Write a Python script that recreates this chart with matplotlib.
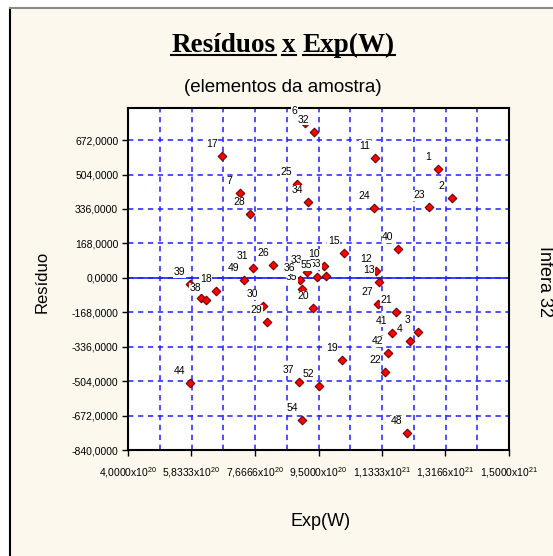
import matplotlib
matplotlib.use("Agg")
import matplotlib.pyplot as plt
from matplotlib.lines import Line2D
from matplotlib.patches import Rectangle

# sample elements: id, Exp(W), residual ("" = label hidden in the original)
ids = ["1", "2", "3", "4", "6", "7", "10", "11", "12", "13", "15", "17", "18", "19",
       "20", "21", "22", "23", "24", "25", "26", "27", "28", "29", "30", "31", "32",
       "33", "34", "35", "36", "37", "", "38", "39", "40", "41", "42", "44", "48",
       "49", "52", "53", "54", "55"]
exp_w = [12.95e20, 13.35e20, 12.37e20, 12.14e20, 9.10e20, 7.22e20, 9.65e20, 11.13e20,
         11.16e20, 11.24e20, 10.23e20, 6.70e20, 6.53e20, 10.17e20, 9.34e20, 11.74e20,
         11.42e20, 12.69e20, 11.10e20, 8.87e20, 8.18e20, 11.21e20, 7.51e20, 8.00e20,
         7.89e20, 7.60e20, 9.36e20, 9.16e20, 9.19e20, 9.02e20, 8.96e20, 8.93e20,
         6.10e20, 6.24e20, 5.78e20, 11.79e20, 11.62e20, 11.50e20, 5.78e20, 12.05e20,
         7.34e20, 9.51e20, 9.71e20, 9.02e20, 9.45e20]
residuo = [530.9, 389.2, -265.2, -309.1, 755.5, 413.6, 57.1, 584.6, 32.7, -21.0,
           120.6, 594.3, -65.0, -401.9, -148.0, -167.5, -460.5, 345.3, 340.4, 457.6,
           62.0, -128.4, 311.1, -216.3, -138.2, 47.4, 711.6, 27.8, 369.7, -55.2,
           -11.2, -509.4, -99.1, -108.9, -30.8, 140.2, -270.1, -367.7, -514.3, -758.4,
           -11.2, -528.9, 8.3, -695.0, 3.4]

x_ticks = [4.0e20, 5.8333e20, 7.6666e20, 9.5e20, 11.333e20, 13.166e20, 15.0e20]
x_labels = [r"4,0000x10$^{20}$", r"5,8333x10$^{20}$", r"7,6666x10$^{20}$",
            r"9,5000x10$^{20}$", r"1,1333x10$^{21}$", r"1,3166x10$^{21}$",
            r"1,5000x10$^{21}$"]
y_ticks = [-840, -672, -504, -336, -168, 0, 168, 336, 504, 672]
y_labels = ["-840,0000", "-672,0000", "-504,0000", "-336,0000", "-168,0000",
            "0,0000", "168,0000", "336,0000", "504,0000", "672,0000"]

W, H = 553, 556
plt.rcParams["font.family"] = ["Liberation Sans", "DejaVu Sans"]
plt.rcParams["mathtext.fontset"] = "custom"
plt.rcParams["mathtext.rm"] = "Liberation Sans"
plt.rcParams["mathtext.it"] = "Liberation Sans"

fig = plt.figure(figsize=(W / 100, H / 100), dpi=100, facecolor="white")

# panel background with border
fig.patches.append(Rectangle((10 / W, 0), 1, 1 - 8 / H, transform=fig.transFigure,
                             facecolor="#fcf8ee", edgecolor="none", zorder=-1))
fig.add_artist(Line2D([10 / W, 10 / W], [0, 1 - 8 / H], transform=fig.transFigure,
                      color="black", lw=1.5))
fig.add_artist(Line2D([10 / W, 1], [1 - 8 / H, 1 - 8 / H], transform=fig.transFigure,
                      color="#8a8a8a", lw=1.5))

ax = fig.add_axes([128 / W, 1 - 450 / H, (509 - 128) / W, (450 - 107.5) / H])
ax.set_facecolor("white")
ax.set_xlim(4.0e20, 15.0e20)
ax.set_ylim(-840, 831)

# grid
blue = "#1f1fff"
for i in range(1, 12):
    xv = 4.0e20 + i * (11.0e20 / 12)
    ax.axvline(xv, color=blue, lw=1.1, ls=(0, (3.5, 3)), zorder=1)
for yv in y_ticks:
    ax.axhline(yv, color=blue, lw=1.1, ls=(0, (3.5, 3)), zorder=1)
ax.axhline(0, color=blue, lw=1.2, zorder=1.5)

ax.scatter(exp_w, residuo, marker="D", s=19, facecolor="#ff0000",
           edgecolor="#6a0000", linewidth=0.8, zorder=3)
for n, xv, yv in zip(ids, exp_w, residuo):
    if not n:
        continue
    ax.annotate(n, (xv, yv), xytext=(-10, 12), textcoords="offset pixels",
                ha="center", va="center", fontsize=7.5, zorder=4,
                bbox=dict(facecolor="white", edgecolor="none", pad=0.4))

ax.set_xticks(x_ticks)
ax.set_xticklabels(x_labels, fontsize=7.5)
ax.set_yticks(y_ticks)
ax.set_yticklabels(y_labels, fontsize=7.5)
ax.tick_params(direction="out", length=4, width=1, pad=3)
ax.tick_params(axis="x", pad=7)
for s in ax.spines.values():
    s.set_linewidth(1.5)
    s.set_color("black")

# title with underlined words
title_words = ["Resíduos", "x", "Exp(W)"]
tkw = dict(fontsize=19.5, fontweight="bold", family="Liberation Serif",
           ha="left", va="baseline")
fig.canvas.draw()
r = fig.canvas.get_renderer()
full = fig.text(0, 0, " ".join(title_words), **tkw)
wfull = full.get_window_extent(r).width
full.remove()
pieces = [fig.text(0, 0, w, **tkw) for w in title_words]
widths = [p.get_window_extent(r).width for p in pieces]
gap = (wfull - sum(widths)) / (len(widths) - 1)
cx, base = 283, H - 52
x0 = cx - wfull / 2
for p, wd in zip(pieces, widths):
    p.set_position((x0 / W, base / H))
    fig.add_artist(Line2D([x0 / W, (x0 + wd) / W], [(base - 3) / H] * 2,
                          transform=fig.transFigure, color="black", lw=1.5))
    x0 += wd + gap

fig.text(283 / W, 1 - 88 / H, "(elementos da amostra)", fontsize=13.5,
         ha="center", va="center")
fig.text(42 / W, 1 - 282 / H, "Resíduo", fontsize=12, rotation=90,
         ha="center", va="center")
fig.text(321 / W, 1 - 522 / H, "Exp(W)", fontsize=13, ha="center", va="center")
fig.text(544 / W, 1 - 282 / H, "Infera 32", fontsize=13, rotation=-90,
         ha="center", va="center")

fig.savefig("out.png", dpi=100)
